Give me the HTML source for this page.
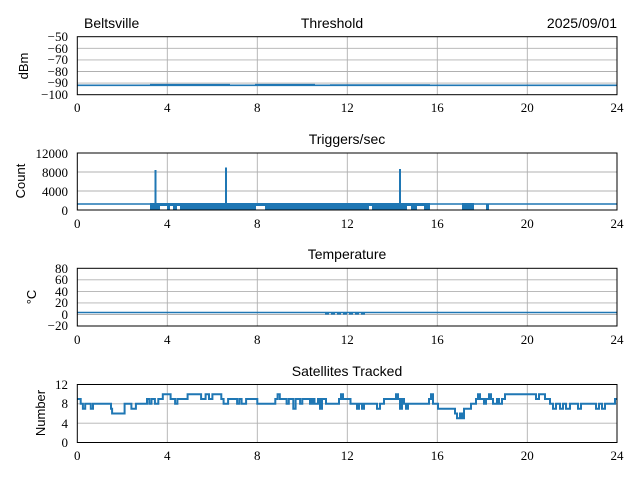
<!DOCTYPE html>
<html><head><style>
body{margin:0;background:#fff;}
svg{display:block}
.t{font-family:"Liberation Serif",serif;font-size:13px;fill:#000}
.s{font-family:"Liberation Sans",sans-serif;font-size:14px;fill:#000}
.g{stroke:#b0b0b0;stroke-width:0.9}
.ln{fill:none;stroke:#1f77b4;stroke-width:1.6}
</style></head><body>
<svg width="640" height="480" xmlns="http://www.w3.org/2000/svg">
<text class="s" x="84" y="28">Beltsville</text>
<text class="s" x="332" y="28" text-anchor="middle">Threshold</text>
<text class="s" x="617" y="28" text-anchor="end">2025/09/01</text>
<text class="s" x="347" y="144" text-anchor="middle">Triggers/sec</text>
<text class="s" x="347" y="259" text-anchor="middle">Temperature</text>
<text class="s" x="347" y="376" text-anchor="middle">Satellites Tracked</text>

<g>
<g class="g">
<line x1="167.3" y1="36.7" x2="167.3" y2="94.7"/><line x1="257.3" y1="36.7" x2="257.3" y2="94.7"/><line x1="347.3" y1="36.7" x2="347.3" y2="94.7"/><line x1="437.3" y1="36.7" x2="437.3" y2="94.7"/><line x1="527.3" y1="36.7" x2="527.3" y2="94.7"/>
<line x1="77.3" y1="48.3" x2="617" y2="48.3"/><line x1="77.3" y1="59.9" x2="617" y2="59.9"/><line x1="77.3" y1="71.5" x2="617" y2="71.5"/><line x1="77.3" y1="83.1" x2="617" y2="83.1"/>
</g>
<line class="ln" x1="77.3" y1="85.3" x2="617" y2="85.3"/>
<path d="M150 84.7h80M255 84.7h60M330 85h100" stroke="#1f77b4" stroke-width="1.6" fill="none"/>
<rect x="77.3" y="36.7" width="539.7" height="58" fill="none" stroke="#000" stroke-width="1"/>
<g class="t" text-anchor="end">
<text x="68" y="41">−50</text><text x="68" y="53">−60</text><text x="68" y="64">−70</text><text x="68" y="76">−80</text><text x="68" y="87">−90</text><text x="68" y="99">−100</text>
</g>
<text class="s" x="0" y="0" transform="translate(28,66) rotate(-90)" text-anchor="middle" style="font-size:13px">dBm</text>
</g>
<g class="t" text-anchor="middle">
<text x="77.3" y="112">0</text><text x="167.3" y="112">4</text><text x="257.3" y="112">8</text><text x="347.3" y="112">12</text><text x="437.3" y="112">16</text><text x="527.3" y="112">20</text><text x="617" y="112">24</text>
</g>

<g class="g">
<line x1="167.3" y1="153" x2="167.3" y2="210"/><line x1="257.3" y1="153" x2="257.3" y2="210"/><line x1="347.3" y1="153" x2="347.3" y2="210"/><line x1="437.3" y1="153" x2="437.3" y2="210"/><line x1="527.3" y1="153" x2="527.3" y2="210"/>
<line x1="77.3" y1="172" x2="617" y2="172"/><line x1="77.3" y1="191" x2="617" y2="191"/>
</g>
<line class="ln" x1="77.3" y1="204" x2="617" y2="204" style="stroke-width:1.4"/>
<rect x="150" y="203" width="280" height="7" fill="#1f77b4"/>
<g fill="#fff"><rect x="160" y="206" width="7" height="4"/><rect x="170" y="206" width="3" height="4"/><rect x="177" y="206" width="3" height="4"/><rect x="256" y="206" width="9" height="4"/><rect x="369" y="206" width="3" height="4"/><rect x="407" y="206" width="4" height="4"/><rect x="417" y="206" width="7" height="4"/></g>
<rect x="462" y="203" width="12" height="7" fill="#1f77b4"/><rect x="486" y="204" width="3" height="6" fill="#1f77b4"/>
<path d="M155.5 210V170M226 210V167.5M400 210V169" stroke="#1f77b4" stroke-width="2" fill="none"/>
<rect x="77.3" y="153" width="539.7" height="57" fill="none" stroke="#000"/>
<g class="t" text-anchor="end">
<text x="68" y="158">12000</text><text x="68" y="177">8000</text><text x="68" y="196">4000</text><text x="68" y="215">0</text>
</g>
<text class="s" transform="translate(25,181) rotate(-90)" text-anchor="middle" style="font-size:13px">Count</text>
<g class="t" text-anchor="middle">
<text x="77.3" y="228">0</text><text x="167.3" y="228">4</text><text x="257.3" y="228">8</text><text x="347.3" y="228">12</text><text x="437.3" y="228">16</text><text x="527.3" y="228">20</text><text x="617" y="228">24</text>
</g>

<g class="g">
<line x1="167.3" y1="268.3" x2="167.3" y2="326"/><line x1="257.3" y1="268.3" x2="257.3" y2="326"/><line x1="347.3" y1="268.3" x2="347.3" y2="326"/><line x1="437.3" y1="268.3" x2="437.3" y2="326"/><line x1="527.3" y1="268.3" x2="527.3" y2="326"/>
<line x1="77.3" y1="279.8" x2="617" y2="279.8"/><line x1="77.3" y1="291.4" x2="617" y2="291.4"/><line x1="77.3" y1="302.9" x2="617" y2="302.9"/><line x1="77.3" y1="314.5" x2="617" y2="314.5"/>
</g>
<line class="ln" x1="77.3" y1="312.5" x2="617" y2="312.5"/>
<path d="M325 313.5h40" stroke="#1f77b4" stroke-width="2.2" stroke-dasharray="4 2"/>
<rect x="77.3" y="268.3" width="539.7" height="57.7" fill="none" stroke="#000"/>
<g class="t" text-anchor="end">
<text x="68" y="273">80</text><text x="68" y="284">60</text><text x="68" y="296">40</text><text x="68" y="307">20</text><text x="68" y="319">0</text><text x="68" y="330">−20</text>
</g>
<text class="s" transform="translate(36,297) rotate(-90)" text-anchor="middle" style="font-size:13px">°C</text>
<g class="t" text-anchor="middle">
<text x="77.3" y="344">0</text><text x="167.3" y="344">4</text><text x="257.3" y="344">8</text><text x="347.3" y="344">12</text><text x="437.3" y="344">16</text><text x="527.3" y="344">20</text><text x="617" y="344">24</text>
</g>

<g class="g">
<line x1="167.3" y1="384.5" x2="167.3" y2="442.5"/><line x1="257.3" y1="384.5" x2="257.3" y2="442.5"/><line x1="347.3" y1="384.5" x2="347.3" y2="442.5"/><line x1="437.3" y1="384.5" x2="437.3" y2="442.5"/><line x1="527.3" y1="384.5" x2="527.3" y2="442.5"/>
<line x1="77.3" y1="403.8" x2="617" y2="403.8"/><line x1="77.3" y1="423.2" x2="617" y2="423.2"/>
</g>
<path class="ln" style="stroke-width:2" d="M77.3 399H80.7V403.8H82.9V408.7H85.2V403.8H90.8V408.7H93V403.8H111V408.7H112.1V413.5H124.6V403.8H131.4V408.7H135.9V403.8H147V399H149.3V403.8H151.5V399H154.9V403.8H158.3V399H162.8V394.2H170.6V399H175.1V403.8H177.4V399H187.6V394.2H201.1V399H205.6V394.2H209V399H212.4V394.2H221.3V399H223.6V403.8H228.1V399H237.1V403.8H239.3V399H241.6V403.8H246.1V399H257.3V403.8H275.3V399H277.6V394.2H279.8V399H286.6V403.8H288.8V399H293.3V408.7H295.6V399H300.1V403.8H302.3V399H310V403.8H311V399H312.2V403.8H313.4V399H314.5V403.8H318V399H320V408.7H322V399H326V403.8H339V399H341V394.2H343V399H350.5V403.8H357V408.7H359V403.8H362V408.7H364V403.8H377V408.7H380V403.8H384V399H396V394.2H398V399H400V408.7H402V399H404V403.8H406V408.7H408V403.8H429V399H431V394.2H433V403.8H438V408.7H455V413.5H457V418.3H460V413.5H462V418.3H464V408.7H471V403.8H476V399H478V394.2H480V399H484V403.8H486V399H489V394.2H491V399H493V403.8H497V399H499V403.8H502V399H505V394.2H536V399H539V394.2H545V399H550V403.8H553V408.7H556V403.8H560V408.7H563V403.8H566V408.7H570V403.8H578V408.7H581V403.8H596V408.7H599V403.8H602V408.7H605V403.8H615V399H617"/>
<rect x="77.3" y="384.5" width="539.7" height="58" fill="none" stroke="#000"/>
<g class="t" text-anchor="end">
<text x="68" y="389">12</text><text x="68" y="408">8</text><text x="68" y="428">4</text><text x="68" y="447">0</text>
</g>
<text class="s" transform="translate(45,413) rotate(-90)" text-anchor="middle" style="font-size:13px">Number</text>
<g class="t" text-anchor="middle">
<text x="77.3" y="460">0</text><text x="167.3" y="460">4</text><text x="257.3" y="460">8</text><text x="347.3" y="460">12</text><text x="437.3" y="460">16</text><text x="527.3" y="460">20</text><text x="617" y="460">24</text>
</g>
</svg>
</body></html>
